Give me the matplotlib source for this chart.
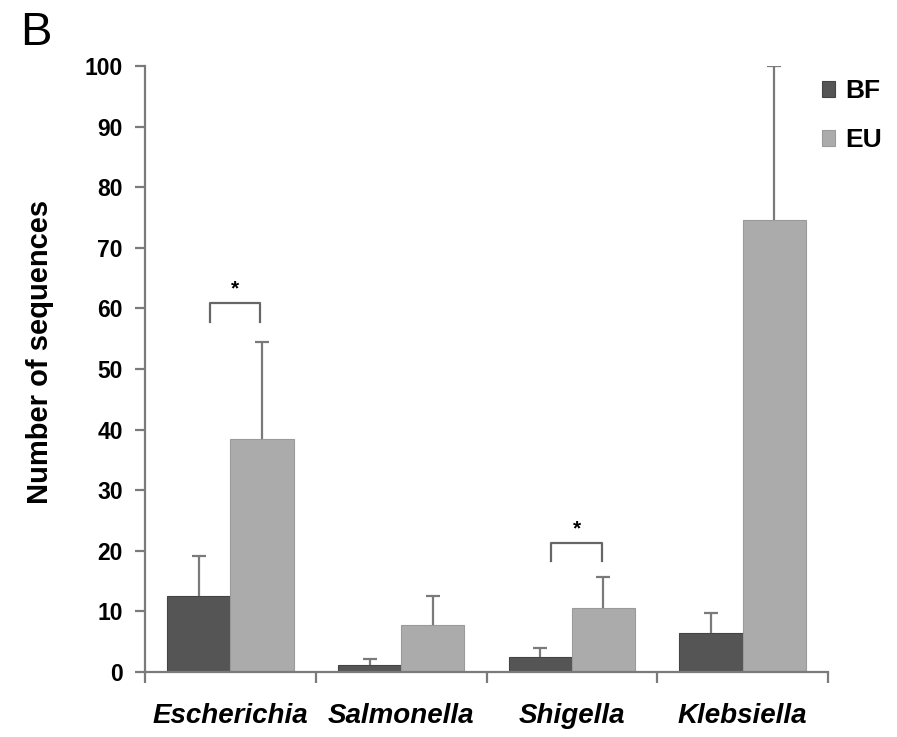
import numpy as np
import matplotlib
matplotlib.use("Agg")
import matplotlib.pyplot as plt

plt.rcParams['font.family'] = ['Liberation Sans', 'DejaVu Sans']

genera = ["Escherichia", "Salmonella", "Shigella", "Klebsiella"]
bf_mean = [12.5, 1.2, 2.5, 6.5]
bf_err = [6.6, 0.9, 1.5, 3.2]
eu_mean = [38.4, 7.8, 10.5, 74.6]
eu_err = [16.1, 4.8, 5.2, 25.4]
# (genus index, bracket height, leg bottom)
sig_pairs = [(0, 60.9, 57.8), (2, 21.3, 18.3)]

dark = "#555555"
light = "#ababab"
axcol = "#7a7a7a"

fig = plt.figure(figsize=(8.97, 7.37), dpi=100)
ax = fig.add_axes([0.1617, 0.0882, 0.7614, 0.8222])

x = np.arange(len(genera))
w = 0.37
ax.bar(x - w / 2, bf_mean, w, color=dark, edgecolor="#444444", linewidth=0.8, label="BF")
ax.bar(x + w / 2, eu_mean, w, color=light, edgecolor="#9a9a9a", linewidth=0.8, label="EU")
for pos, m, e in [(x - w / 2, bf_mean, bf_err), (x + w / 2, eu_mean, eu_err)]:
    eb = ax.errorbar(pos, m, yerr=[np.zeros(4), e], fmt="none",
                     ecolor=axcol, elinewidth=1.6, capsize=5, capthick=1.6)
    # only the upper whisker is shown
    eb[1][0].set_visible(False)

for i, top, bot in sig_pairs:
    x0 = i - w / 2 + 0.065
    x1 = i + w / 2 - 0.01
    ax.plot([x0, x0, x1, x1], [bot, top, top, bot], color="#666666", lw=1.6)
    ax.text((x0 + x1) / 2, top + 0.8, "*", ha="center", va="bottom",
            fontsize=15, fontweight="bold")

ax.set_xlim(-0.5, 3.5)
ax.set_ylim(0, 100)
ax.set_yticks(np.arange(0, 101, 10))
ax.set_xticks(np.arange(-0.5, 3.6, 1))
ax.set_xticklabels([])
ax.set_xticks(x, minor=True)
ax.set_xticklabels(genera, minor=True, fontsize=20, fontweight="bold", style="italic")
ax.tick_params(axis="x", which="minor", length=0, pad=22)
ax.tick_params(axis="x", which="major", length=8, direction="out", color=axcol, width=1.6)
ax.tick_params(axis="y", length=7, width=1.6, color=axcol, labelsize=16.5, pad=9)
for lab in ax.get_yticklabels():
    lab.set_fontweight("bold")

for s in ["top", "right"]:
    ax.spines[s].set_visible(False)
for s in ["left", "bottom"]:
    ax.spines[s].set_color(axcol)
    ax.spines[s].set_linewidth(1.6)

ax.set_ylabel("Number of sequences", fontsize=21, fontweight="bold")
ax.yaxis.set_label_coords(-0.134, 0.528)

leg = ax.legend(loc="upper left", bbox_to_anchor=(0.991, 0.978), frameon=False,
                borderaxespad=0, borderpad=0,
                handlelength=0.5, handleheight=0.55, handletextpad=0.4,
                labelspacing=0.95, prop={"weight": "bold", "size": 19})

fig.text(0.022, 0.985, "B", fontsize=34, va="top", ha="left")

fig.savefig("out.png", dpi=100)
